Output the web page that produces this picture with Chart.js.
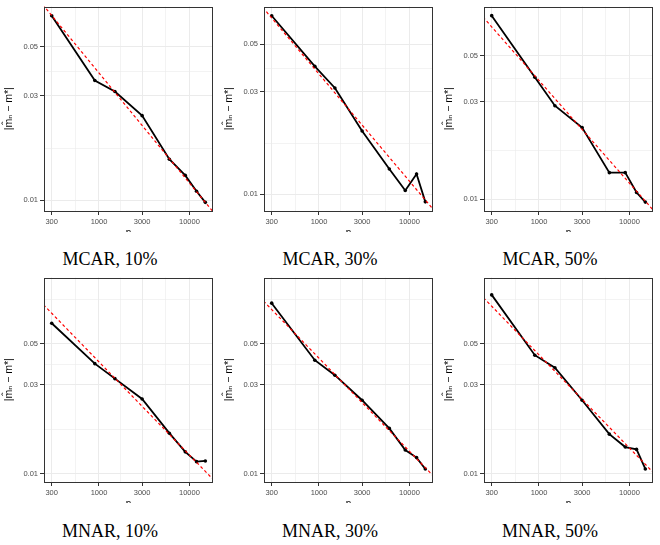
<!DOCTYPE html>
<html>
<head>
<meta charset="utf-8">
<script src="https://cdn.jsdelivr.net/npm/chart.js@4.4.1/dist/chart.umd.min.js"></script>
<style>
  body { margin: 0; background: #fff; }
  #fig { position: relative; width: 660px; height: 545px; }
  .panel { position: absolute; width: 220px; height: 232px; overflow: hidden; }
  .caption { position: absolute; width: 220px; text-align: center; font-family: 'Liberation Serif', 'Times New Roman', serif; font-size: 18px; line-height: 20px; color: #000; }
</style>
</head>
<body>
<div id="fig"></div>
<script>
// Sample sizes (x axis)
const nValues = [300, 900, 1500, 3000, 6000, 9000, 12000, 15000];

// Error |m_hat_n - m*|
const mcar10 = [0.0692, 0.0351, 0.0313, 0.0243, 0.0154, 0.0130, 0.0110, 0.0098];
const mcar30 = [0.0680, 0.0395, 0.0313, 0.0197, 0.0131, 0.0104, 0.0124, 0.0092];
const mcar50 = [0.0786, 0.0394, 0.0286, 0.0224, 0.0135, 0.0135, 0.0108, 0.0097];
const mnar10 = [0.0643, 0.0390, 0.0324, 0.0252, 0.0165, 0.0131, 0.0116, 0.0117];
const mnar30 = [0.0824, 0.0407, 0.0338, 0.0248, 0.0175, 0.0134, 0.0122, 0.0106];
const mnar50 = [0.0913, 0.0433, 0.0371, 0.0248, 0.0163, 0.0139, 0.0135, 0.0106];

// Red dashed reference line (n^-1/2), values read at both ends
const refN = [200, 20000];
const refMcar10 = [0.0849, 0.00849];
const refMcar30 = [0.0813, 0.00813];
const refMcar50 = [0.0849, 0.00849];
const refMnar10 = [0.0891, 0.00891];
const refMnar30 = [0.0933, 0.00933];
const refMnar50 = [0.0972, 0.00972];

// Axis ticks
const xTicks = [300, 1000, 3000, 10000];
const xLabels = ['300', '1000', '3000', '10000'];
const xMinor = [548, 1732, 5477];
const yTicks = [0.01, 0.03, 0.05];
const yLabels = ['0.01', '0.03', '0.05'];
const yMinor = [0.0173, 0.0387, 0.0866];

const captions = ['MCAR, 10%', 'MCAR, 30%', 'MCAR, 50%', 'MNAR, 10%', 'MNAR, 30%', 'MNAR, 50%'];
const xRange = [246.6, 18240];
const yRanges = [[0.00895, 0.0762], [0.00834, 0.0751], [0.00878, 0.0871],
                 [0.00902, 0.1132], [0.00902, 0.1132], [0.00902, 0.1132]];

const series = [mcar10, mcar30, mcar50, mnar10, mnar30, mnar50];
const refs = [refMcar10, refMcar30, refMcar50, refMnar10, refMnar30, refMnar50];

const fontFamily = "'Liberation Sans', 'DejaVu Sans', Arial, sans-serif";

// panel border drawn over the data, like theme_bw
const borderPlugin = {
    id: 'panelBorder',
    afterDatasetsDraw(chart) {
        const a = chart.chartArea;
        const ctx = chart.ctx;
        ctx.save();
        ctx.strokeStyle = '#333333';
        ctx.lineWidth = 1;
        ctx.strokeRect(Math.round(a.left) + 0.5, Math.round(a.top) + 0.5,
                       Math.round(a.right - a.left) - 1, Math.round(a.bottom - a.top) - 1);
        ctx.restore();
    }
};

function tickSetter(major, minor) {
    return scale => {
        scale.ticks = major.concat(minor).map(v => ({ value: v }));
    };
}

function labelFor(major, labels) {
    return value => {
        const i = major.findIndex(v => Math.abs(v - value) / v < 1e-6);
        return i >= 0 ? labels[i] : '';
    };
}

function gridStyle(major) {
    const isMajor = ctx => ctx.tick && major.some(v => Math.abs(v - ctx.tick.value) / v < 1e-6);
    return {
        color: '#EBEBEB',
        lineWidth: ctx => isMajor(ctx) ? 1 : 0.6,
        tickColor: ctx => isMajor(ctx) ? '#333333' : 'rgba(0,0,0,0)',
        tickLength: 4,
        tickWidth: 1
    };
}

const fig = document.getElementById('fig');

series.forEach((values, i) => {
    const col = i % 3;
    const row = Math.floor(i / 3);

    const wrap = document.createElement('div');
    wrap.className = 'panel';
    wrap.style.left = (col * 220) + 'px';
    wrap.style.top = (row * 271) + 'px';
    const canvas = document.createElement('canvas');
    canvas.width = 220;
    canvas.height = 245;
    wrap.appendChild(canvas);
    fig.appendChild(wrap);

    const cap = document.createElement('div');
    cap.className = 'caption';
    cap.style.left = (col * 220) + 'px';
    cap.style.top = (249 + row * 272) + 'px';
    cap.textContent = captions[i];
    fig.appendChild(cap);

    new Chart(canvas, {
        type: 'line',
        data: {
            datasets: [
                {
                    data: refN.map((n, k) => ({ x: n, y: refs[i][k] })),
                    borderColor: '#FF0000',
                    borderWidth: 1.2,
                    borderDash: [3, 2.5],
                    pointRadius: 0,
                    fill: false
                },
                {
                    data: nValues.map((n, k) => ({ x: n, y: values[k] })),
                    borderColor: '#000000',
                    backgroundColor: '#000000',
                    borderWidth: 1.8,
                    pointRadius: 1.8,
                    pointBorderWidth: 0,
                    tension: 0,
                    fill: false
                }
            ]
        },
        options: {
            responsive: false,
            animation: false,
            devicePixelRatio: 1,
            layout: { padding: { top: 6, right: 7, left: 0, bottom: 0 } },
            plugins: { legend: { display: false }, tooltip: { enabled: false } },
            scales: {
                x: {
                    type: 'logarithmic',
                    min: xRange[0],
                    max: xRange[1],
                    afterBuildTicks: tickSetter(xTicks, xMinor),
                    afterFit: s => { s.height = 34; },
                    border: { display: false },
                    grid: gridStyle(xTicks),
                    ticks: {
                        autoSkip: false,
                        maxRotation: 0,
                        padding: 2,
                        color: '#4D4D4D',
                        font: { family: fontFamily, size: 7.5 },
                        callback: labelFor(xTicks, xLabels)
                    },
                    title: {
                        display: true,
                        text: 'n',
                        color: '#000',
                        padding: { top: 0, bottom: 6 },
                        font: { family: fontFamily, size: 10 }
                    }
                },
                y: {
                    type: 'logarithmic',
                    min: yRanges[i][0],
                    max: yRanges[i][1],
                    afterBuildTicks: tickSetter(yTicks, yMinor),
                    afterFit: s => { s.width = 44; },
                    border: { display: false },
                    grid: gridStyle(yTicks),
                    ticks: {
                        autoSkip: false,
                        padding: 2,
                        color: '#4D4D4D',
                        font: { family: fontFamily, size: 7.5 },
                        callback: labelFor(yTicks, yLabels)
                    },
                    title: {
                        display: true,
                        text: '|m\u0302\u2099 \u2212 m*|',
                        color: '#000',
                        padding: { top: 3, bottom: 0 },
                        font: { family: fontFamily, size: 10.5 }
                    }
                }
            }
        },
        plugins: [borderPlugin]
    });
});
</script>
</body>
</html>
